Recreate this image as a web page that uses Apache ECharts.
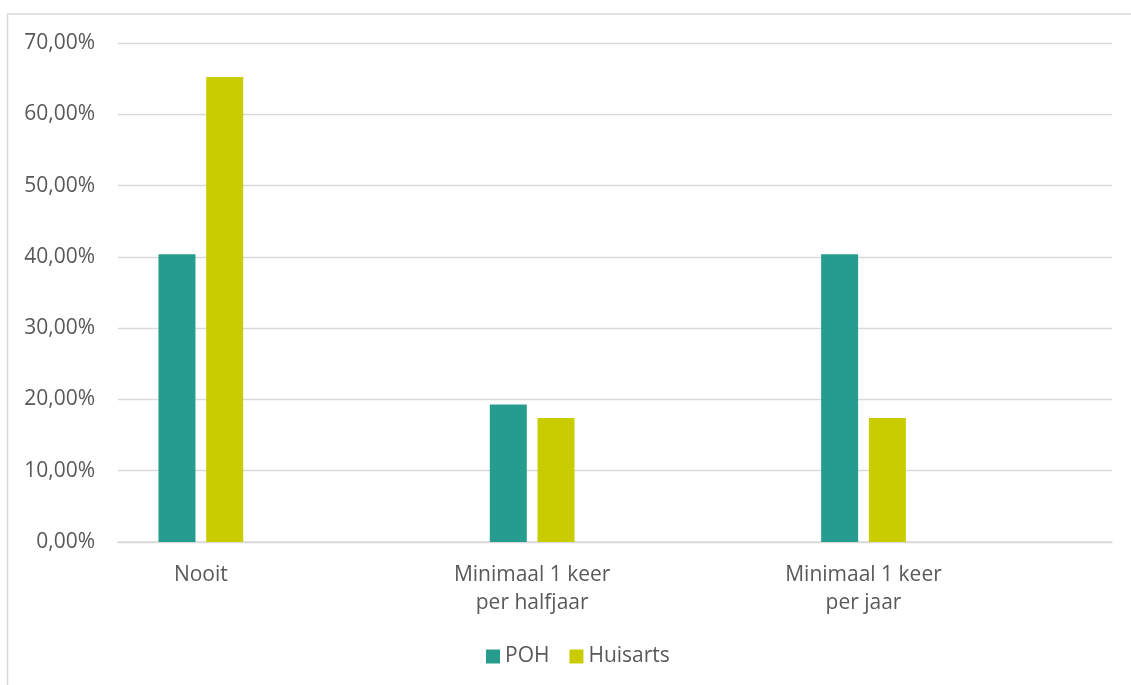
<!DOCTYPE html>
<html>
<head>
<meta charset="utf-8">
<style>
  html, body { margin: 0; padding: 0; background: #ffffff; }
  #chart { width: 1131px; height: 685px; }
</style>
<script src="https://cdn.jsdelivr.net/npm/echarts@6/dist/echarts.min.js"></script>
</head>
<body>
<div id="chart"></div>
<script>
// Answer categories and share of respondents (%) per care provider
const categories = ['Nooit', 'Minimaal 1 keer\nper halfjaar', 'Minimaal 1 keer\nper jaar'];
const pohValues = [40.35, 19.30, 40.35];
const huisartsValues = [65.22, 17.39, 17.39];
const seriesNames = ['POH', 'Huisarts'];
const yTicks = { min: 0, max: 70, step: 10 };

// Each answer sits in a slot followed by an empty slot (spacing of the axis)
function withGaps(arr, blank) {
  const out = [];
  arr.forEach(v => { out.push(v); out.push(blank); });
  return out;
}

const textColor = '#595959';
const lineColor = '#d9d9d9';
const fontFamily = '"Open Sans", "Noto Sans", sans-serif';

const chart = echarts.init(document.getElementById('chart'), null, { renderer: 'canvas' });

chart.setOption({
  backgroundColor: '#ffffff',
  animation: false,
  graphic: [{
    type: 'rect',
    shape: { x: 7.5, y: 14, width: 1300, height: 800 },
    style: { fill: 'none', stroke: lineColor, lineWidth: 1.6 },
    silent: true
  }],
  grid: { left: 118, right: 19, top: 43, bottom: 143, containLabel: false },
  legend: {
    data: seriesNames,
    left: 486,
    top: 646,
    padding: 0,
    icon: 'rect',
    itemWidth: 14,
    itemHeight: 14,
    itemGap: 20,
    textStyle: { color: textColor, fontSize: 21, fontFamily: fontFamily }
  },
  xAxis: {
    type: 'category',
    data: withGaps(categories, ''),
    axisLine: { lineStyle: { color: lineColor, width: 1.6 } },
    axisTick: { show: false },
    axisLabel: {
      interval: 0,
      margin: 19,
      color: textColor,
      fontSize: 21,
      lineHeight: 28,
      fontFamily: fontFamily,
      align: 'center'
    }
  },
  yAxis: {
    type: 'value',
    min: yTicks.min,
    max: yTicks.max,
    interval: yTicks.step,
    axisLine: { show: false },
    axisTick: { show: false },
    axisLabel: {
      margin: 23,
      color: textColor,
      fontSize: 21,
      fontFamily: fontFamily,
      formatter: v => v.toFixed(2).replace('.', ',') + '%'
    },
    splitLine: { lineStyle: { color: lineColor, width: 1.3 } }
  },
  series: [
    {
      name: seriesNames[0],
      type: 'bar',
      data: withGaps(pohValues, null),
      barWidth: 37,
      barGap: '29%',
      itemStyle: { color: '#269c8f' }
    },
    {
      name: seriesNames[1],
      type: 'bar',
      data: withGaps(huisartsValues, null),
      barWidth: 37,
      itemStyle: { color: '#c9cd00' }
    }
  ]
});
</script>
</body>
</html>
